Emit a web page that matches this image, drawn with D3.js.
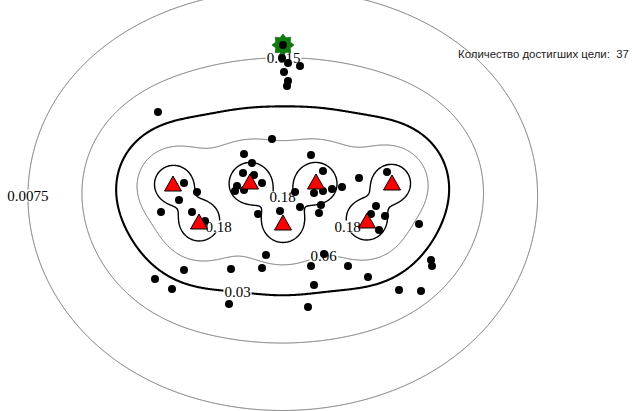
<!DOCTYPE html>
<html>
<head>
<meta charset="utf-8">
<script src="https://cdn.jsdelivr.net/npm/d3@7"></script>
<style>
  html, body { margin: 0; padding: 0; background: #fff; overflow: hidden; }
  svg { display: block; }
</style>
</head>
<body>
<svg id="chart" width="632" height="411"></svg>
<script>
// Beacon (source) positions in field units
const sourceX = [3.46, 3.98, 5.00, 5.66, 6.32, 7.84, 7.34];
const sourceY = [4.54, 3.78, 4.58, 3.76, 4.58, 4.56, 3.80];

// Field value = fieldK * sum(1 / r^2) over all beacons
const fieldK = 0.0208;

// Iso-levels drawn and their labels
const levels = [0.0075, 0.015, 0.03, 0.06, 0.18];
const levelLabels = ["0.0075", "0.015", "0.03", "0.06", "0.18"];

// Goal position
const goalX = [5.66];
const goalY = [7.32];

// Agent positions
const agentX = [5.66, 5.64, 5.76, 6.00, 5.68, 5.76, 5.74, 3.16, 5.44, 3.68,
                3.94, 3.58, 3.22, 3.84, 4.10, 4.88, 5.04, 4.86, 5.08, 5.24,
                4.74, 4.70, 4.88, 5.16, 5.60, 6.22, 6.46, 6.28, 6.46, 6.64,
                6.84, 6.42, 6.38, 6.00, 5.90, 7.18, 7.74, 7.52, 7.42, 7.70,
                7.58, 8.38, 5.32, 6.48, 3.68, 4.62, 5.24, 6.22, 6.96, 8.62,
                8.64, 3.10, 3.44, 7.36, 6.28, 7.98, 8.42, 4.58, 6.16];
const agentY = [7.32, 7.06, 6.96, 6.90, 6.78, 6.60, 6.50, 5.98, 5.44, 4.56,
                4.38, 4.22, 3.98, 3.98, 3.80, 5.14, 4.96, 4.76, 4.72, 4.56,
                4.50, 4.40, 4.42, 3.94, 4.00, 5.12, 4.80, 4.36, 4.40, 4.44,
                4.48, 4.12, 3.96, 4.08, 4.38, 4.66, 4.78, 4.10, 3.94, 3.90,
                3.62, 3.74, 3.12, 3.14, 2.82, 2.84, 2.86, 2.90, 2.90, 3.02,
                2.90, 2.64, 2.44, 2.68, 2.52, 2.42, 2.40, 2.14, 2.08];

const reachedLabel = "Количество достигших цели:";
const reachedCount = 37;

// ---------------------------------------------------------------
const W = 632, H = 411;
const svg = d3.select("#chart");

const x = d3.scaleLinear().domain([0, 12.64]).range([0, W]);
const y = d3.scaleLinear().domain([0, 8.22]).range([H, 0]);

// Sample the field on a padded pixel grid so closed curves stay closed
const pad = 60, step = 1;
const n = Math.ceil((W + 2 * pad) / step);
const m = Math.ceil((H + 2 * pad) / step);
const gx = d3.scaleLinear().domain([0, n]).range([x.invert(-pad), x.invert(-pad + n * step)]);
const gy = d3.scaleLinear().domain([0, m]).range([y.invert(-pad), y.invert(-pad + m * step)]);

const field = (fx, fy) => {
  let s = 0;
  for (let k = 0; k < sourceX.length; k++) {
    const dx = fx - sourceX[k], dy = fy - sourceY[k];
    s += 1 / Math.max(dx * dx + dy * dy, 1e-5);
  }
  return fieldK * s;
};

const values = new Float64Array(n * m);
for (let j = 0; j < m; j++) {
  const fy = gy(j + 0.5);
  for (let i = 0; i < n; i++) {
    values[j * n + i] = field(gx(i + 0.5), fy);
  }
}

const contours = d3.contours().size([n, m]).thresholds(levels)(values);

const toPx = (p) => [x(gx(p[0])), y(gy(p[1]))];
const projection = d3.geoTransform({
  point: function (px, py) {
    const q = toPx([px, py]);
    this.stream.point(q[0], q[1]);
  }
});
const path = d3.geoPath(projection);

const lineStyle = {
  0.0075: { stroke: "#6f6f6f", width: 1 },
  0.015:  { stroke: "#6f6f6f", width: 1 },
  0.03:   { stroke: "#000", width: 2.1 },
  0.06:   { stroke: "#6f6f6f", width: 1 },
  0.18:   { stroke: "#000", width: 1.4 }
};

svg.append("g")
  .attr("fill", "none")
  .selectAll("path")
  .data(contours)
  .join("path")
  .attr("d", path)
  .attr("stroke", d => lineStyle[d.value].stroke)
  .attr("stroke-width", d => lineStyle[d.value].width)
  .attr("stroke-linejoin", "round");

// Label anchors, in field units; each snaps to the nearest point of its level
const labelSpots = [
  { level: 0.0075, fx: 0.60, fy: 4.30 },
  { level: 0.015,  fx: 5.66, fy: 7.14 },
  { level: 0.03,   fx: 4.74, fy: 2.36 },
  { level: 0.06,   fx: 6.48, fy: 3.02 },
  { level: 0.18,   fx: 4.46, fy: 3.66 },
  { level: 0.18,   fx: 5.64, fy: 4.26 },
  { level: 0.18,   fx: 6.86, fy: 3.66 }
];

const labelG = svg.append("g");
labelSpots.forEach(spot => {
  const c = contours.find(d => d.value === spot.level);
  const hx = x(spot.fx), hy = y(spot.fy);
  let best = null, bestD = Infinity;
  c.coordinates.forEach(poly => poly.forEach(ring => ring.forEach(p => {
    const q = toPx(p);
    const d = (q[0] - hx) ** 2 + (q[1] - hy) ** 2;
    if (d < bestD) { bestD = d; best = q; }
  })));
  const g = labelG.append("g");
  const bg = g.append("rect").attr("fill", "#fff");
  const t = g.append("text")
    .attr("x", best[0])
    .attr("y", best[1])
    .attr("text-anchor", "middle")
    .attr("dominant-baseline", "central")
    .attr("font-family", "'Liberation Serif', 'Times New Roman', serif")
    .attr("font-size", 15)
    .attr("fill", "#000")
    .text(levelLabels[levels.indexOf(spot.level)]);
  const bb = t.node().getBBox();
  bg.attr("x", bb.x - 1).attr("y", bb.y + 2).attr("width", bb.width + 2).attr("height", bb.height - 4);
});

// Goal marker: eight-pointed star
const starPts = d3.range(16).map(k => [k * Math.PI / 8, k % 2 === 0 ? 11 : 7.8]);
svg.append("path")
  .attr("transform", `translate(${x(goalX[0])},${y(goalY[0])})`)
  .attr("d", d3.lineRadial().curve(d3.curveLinearClosed)(starPts))
  .attr("fill", "#0b7d0b")
  .attr("stroke", "#075807")
  .attr("stroke-width", 0.6);

// Agents
svg.append("g")
  .selectAll("circle")
  .data(d3.range(agentX.length))
  .join("circle")
  .attr("cx", i => x(agentX[i]))
  .attr("cy", i => y(agentY[i]))
  .attr("r", 4)
  .attr("fill", "#000");

// Beacons
const tri = "M0,-8 L8.5,7 L-8.5,7 Z";
svg.append("g")
  .selectAll("path")
  .data(d3.range(sourceX.length))
  .join("path")
  .attr("transform", i => `translate(${x(sourceX[i])},${y(sourceY[i])})`)
  .attr("d", tri)
  .attr("fill", "#ff0000")
  .attr("stroke", "#000")
  .attr("stroke-width", 1);

// Counter, fitted to the space right of the outer curve
const counter = svg.append("text")
  .attr("x", 458)
  .attr("y", 54)
  .attr("dominant-baseline", "central")
  .attr("font-family", "'Liberation Sans', Arial, sans-serif")
  .attr("font-size", 12)
  .attr("fill", "#222")
  .style("white-space", "pre")
  .text(`${reachedLabel}  ${reachedCount}`);
const cw = counter.node().getComputedTextLength();
if (cw > 171) counter.attr("font-size", 12 * 171 / cw);
</script>
</body>
</html>
